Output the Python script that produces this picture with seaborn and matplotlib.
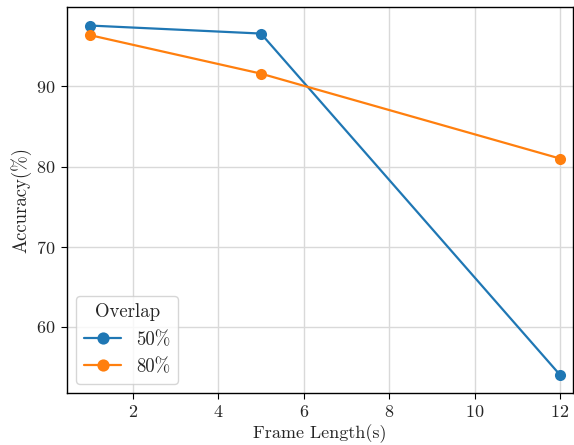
import matplotlib
matplotlib.use("Agg")
import matplotlib.pyplot as plt
import pandas as pd
import seaborn as sns

# valeurs
frame_length = [1, 5, 12]
acc_50 = [97.6, 96.6, 54.0]
acc_80 = [96.4, 91.6, 81.0]
overlaps = ["50%", "80%"]

df = pd.DataFrame({
    "Frame Length(s)": frame_length * 2,
    "Accuracy(%)": acc_50 + acc_80,
    "Overlap": [overlaps[0]] * 3 + [overlaps[1]] * 3,
})

sns.set_theme(style="whitegrid")
plt.rcParams["font.family"] = ["cmr10", "DejaVu Serif"]
plt.rcParams["mathtext.fontset"] = "cm"
plt.rcParams["axes.formatter.use_mathtext"] = True
plt.rcParams["axes.edgecolor"] = "black"
plt.rcParams["grid.color"] = "#d9d9d9"

fig = plt.figure(figsize=(5.74, 4.45), dpi=100)
ax = fig.add_axes([0.1167, 0.117, 0.8813, 0.867])
sns.lineplot(data=df, x="Frame Length(s)", y="Accuracy(%)", hue="Overlap",
             palette=["#1f77b4", "#ff7f0e"], marker="o", markersize=8,
             markeredgewidth=0, linewidth=1.6, ax=ax)
ax.set_xlim(0.46, 12.3)
ax.set_ylim(51.75, 99.9)
ax.set_xticks([2, 4, 6, 8, 10, 12])
ax.set_yticks([60, 70, 80, 90])
ax.tick_params(axis="both", which="both", bottom=True, left=True,
               length=4, width=0.8, color="black", labelsize=13, pad=4)
ax.set_xlabel("Frame Length(s)", fontsize=13, labelpad=3)
ax.set_ylabel("Accuracy(%)", fontsize=13.5)
for s in ax.spines.values():
    s.set_linewidth(1.0)
leg = ax.legend(title="Overlap", loc="lower left", fontsize=13.5, title_fontsize=13.5,
                frameon=True, markerscale=1.1)
leg.get_frame().set_edgecolor("#cccccc")
fig.savefig("out.png", dpi=100)
